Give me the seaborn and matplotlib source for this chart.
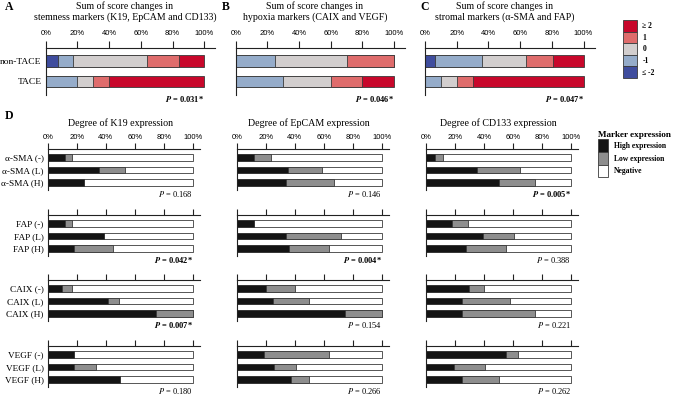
import numpy as np
import seaborn as sns
import matplotlib.pyplot as plt
import matplotlib.transforms as mtransforms
from matplotlib.patches import Patch

plt.rcParams["font.family"] = ["Liberation Serif", "DejaVu Serif"]
plt.rcParams["mathtext.fontset"] = "stix"

W, H = 675, 396

# ---- top row: sum of score changes (% of patients) ----
score_levels = ["≤ -2", "-1", "0", "1", "≥ 2"]
score_colors = ["#3f4d9e", "#95acca", "#d2cece", "#df6c6c", "#c8072b"]
top_rows = ["non-TACE", "TACE"]
stem_non = [8, 9, 47, 20, 16]
stem_tace = [0, 20, 10, 10, 60]
hyp_non = [0, 25, 45, 30, 0]
hyp_tace = [0, 30, 30, 20, 20]
strom_non = [6, 30, 28, 17, 19]
strom_tace = [0, 10, 10, 10, 70]
top_titles = ["Sum of score changes in\nstemness markers (K19, EpCAM and CD133)",
              "Sum of score changes in\nhypoxia markers (CAIX and VEGF)",
              "Sum of score changes in\nstromal markers (α-SMA and FAP)"]
top_p = ["0.031*", "0.046*", "0.047*"]

# ---- panel D: degree of expression (% high / low, rest negative) ----
expr_levels = ["High expression", "Low expression", "Negative"]
expr_colors = ["#141414", "#8e8e8e", "#ffffff"]
d_groups = ["α-SMA", "FAP", "CAIX", "VEGF"]
d_suffix = ["(-)", "(L)", "(H)"]
d_titles = ["Degree of K19 expression", "Degree of EpCAM expression", "Degree of CD133 expression"]

k19_high = [[12, 35.5, 25], [12, 39, 18], [10, 41.5, 75], [18, 18, 50]]
k19_low = [[5, 17.5, 0], [5, 0, 27], [6.5, 8, 25], [0, 15, 0]]
epcam_high = [[12, 35.5, 34], [12, 34, 36], [20, 25, 75], [18.5, 26, 37.5]]
epcam_low = [[11.5, 23, 33], [0, 38, 27.5], [20, 25, 25], [45, 15, 12.5]]
cd133_high = [[6, 35.5, 50], [18, 39, 27.5], [30, 25, 25], [55, 19, 25]]
cd133_low = [[5.5, 29, 25], [11, 22, 27.5], [10, 33, 50], [8.5, 22, 25]]

k19_p = ["0.168", "0.042*", "0.007*", "0.180"]
epcam_p = ["0.146", "0.004*", "0.154", "0.266"]
cd133_p = ["0.005*", "0.388", "0.221", "0.262"]

EDGE = "#3a3a3a"


def px_axes(fig, x0, y0, x1, y1):
    return fig.add_axes([x0 / W, 1 - y1 / H, (x1 - x0) / W, (y1 - y0) / H])


def stacked(ax, rows, parts, colors, width):
    cum = np.cumsum(np.array(parts, dtype=float), axis=1)
    for k in range(cum.shape[1] - 1, -1, -1):
        sns.barplot(x=cum[:, k], y=rows, orient="h", color=colors[k], width=width,
                    saturation=1, edgecolor=EDGE, linewidth=0.6, errorbar=None, ax=ax)


def style_axis(ax, xmax, show_labels):
    ax.set_xlim(0, xmax)
    for s in ["right", "bottom"]:
        ax.spines[s].set_visible(False)
    for s in ["top", "left"]:
        ax.spines[s].set_linewidth(0.8)
        ax.spines[s].set_color("#222222")
    ax.xaxis.set_ticks_position("top")
    ax.set_xticks([0, 20, 40, 60, 80, 100])
    ax.set_xticklabels([f"{t}%" for t in range(0, 101, 20)], fontfamily="Liberation Sans")
    ax.tick_params(axis="x", direction="out", length=4, width=0.8, color="#222222",
                   labeltop=show_labels, labelsize=5.5, pad=2)
    ax.tick_params(axis="y", length=0, pad=3)
    ax.set_xlabel("")
    ax.set_ylabel("")


def p_text(ax, val, y):
    tr = mtransforms.blended_transform_factory(ax.transData, ax.transAxes)
    if val.endswith("*"):
        ax.text(100, y, r"$\mathbfit{P}$ = " + val, transform=tr, ha="right", va="center",
                fontsize=6, fontweight="bold")
    else:
        ax.text(100, y, r"$P$ = " + val, transform=tr, ha="right", va="center", fontsize=6)


fig = plt.figure(figsize=(W / 100, H / 100), dpi=100)

# ---- A, B, C ----
top_data = [(stem_non, stem_tace), (hyp_non, hyp_tace), (strom_non, strom_tace)]
top_x0 = [45.7, 235.7, 425.0]
for i, (non, tace) in enumerate(top_data):
    x0 = top_x0[i]
    ax = px_axes(fig, x0, 48, x0 + 1.07 * 158.5, 95)
    stacked(ax, top_rows, [non, tace], score_colors, 0.58)
    style_axis(ax, 107, True)
    ax.set_ylim(1.66, -0.634)
    if i == 0:
        ax.set_yticks([0, 1])
        ax.set_yticklabels(top_rows, fontsize=6.8)
    else:
        ax.set_yticks([])
    ax.tick_params(axis="x", length=5, pad=3)
    tr = mtransforms.blended_transform_factory(ax.transData, ax.transAxes)
    ax.text(50, 1.78, top_titles[i], transform=tr, ha="center", va="center",
            fontsize=7.1, linespacing=1.2)
    p_text(ax, top_p[i], -0.09)

for letter, x in zip("ABC", [5, 222, 420]):
    fig.text(x / W, 1 - 7 / H, letter, fontsize=8.5, fontweight="bold", va="center")

fig.legend(handles=[Patch(facecolor=c, edgecolor=EDGE, linewidth=0.6, label=l)
                    for l, c in zip(score_levels[::-1], score_colors[::-1])],
           loc="upper left", bbox_to_anchor=(623 / W, 1 - 20 / H), frameon=False,
           prop={"size": 5.5, "weight": "bold"}, handlelength=1.85, handleheight=1.96,
           labelspacing=0, borderpad=0, borderaxespad=0, handletextpad=0.7)

# ---- D ----
fig.text(5 / W, 1 - 116 / H, "D", fontsize=8.5, fontweight="bold", va="center")
d_high = [k19_high, epcam_high, cd133_high]
d_low = [k19_low, epcam_low, cd133_low]
d_p = [k19_p, epcam_p, cd133_p]
d_x0 = [47.7, 236.7, 426.0]
g_top = [149, 215, 280, 346]
for c in range(3):
    x0 = d_x0[c]
    for g in range(4):
        y0 = g_top[g]
        ax = px_axes(fig, x0, y0, x0 + 1.05 * 145, y0 + 41)
        rows = [f"{d_groups[g]} {s}" for s in d_suffix]
        hi = d_high[c][g]
        lo = d_low[c][g]
        parts = [[h, l, 100 - h - l] for h, l in zip(hi, lo)]
        stacked(ax, rows, parts, expr_colors, 0.54)
        style_axis(ax, 105, g == 0)
        ax.set_ylim(2.6, -0.68)
        if c == 0:
            ax.set_yticks([0, 1, 2])
            ax.set_yticklabels(rows, fontsize=6.7)
        else:
            ax.set_yticks([])
        p_text(ax, d_p[c][g], -0.1)
        if g == 0:
            tr = mtransforms.blended_transform_factory(ax.transData, ax.transAxes)
            ax.text(50, 1.63, d_titles[c], transform=tr, ha="center", va="center", fontsize=7.2)

leg = fig.legend(handles=[Patch(facecolor=c, edgecolor=EDGE, linewidth=0.6, label=l)
                          for l, c in zip(expr_levels, expr_colors)],
                 loc="upper left", bbox_to_anchor=(598 / W, 1 - 131 / H), frameon=False,
                 title="Marker expression", title_fontproperties={"size": 6.6, "weight": "bold"},
                 prop={"size": 5.5, "weight": "bold"}, handlelength=1.3, handleheight=2.2,
                 labelspacing=0, borderpad=0, borderaxespad=0, handletextpad=0.8,
                 alignment="left")
leg._legend_handle_box.sep = 10

fig.savefig("out.png", dpi=100)
